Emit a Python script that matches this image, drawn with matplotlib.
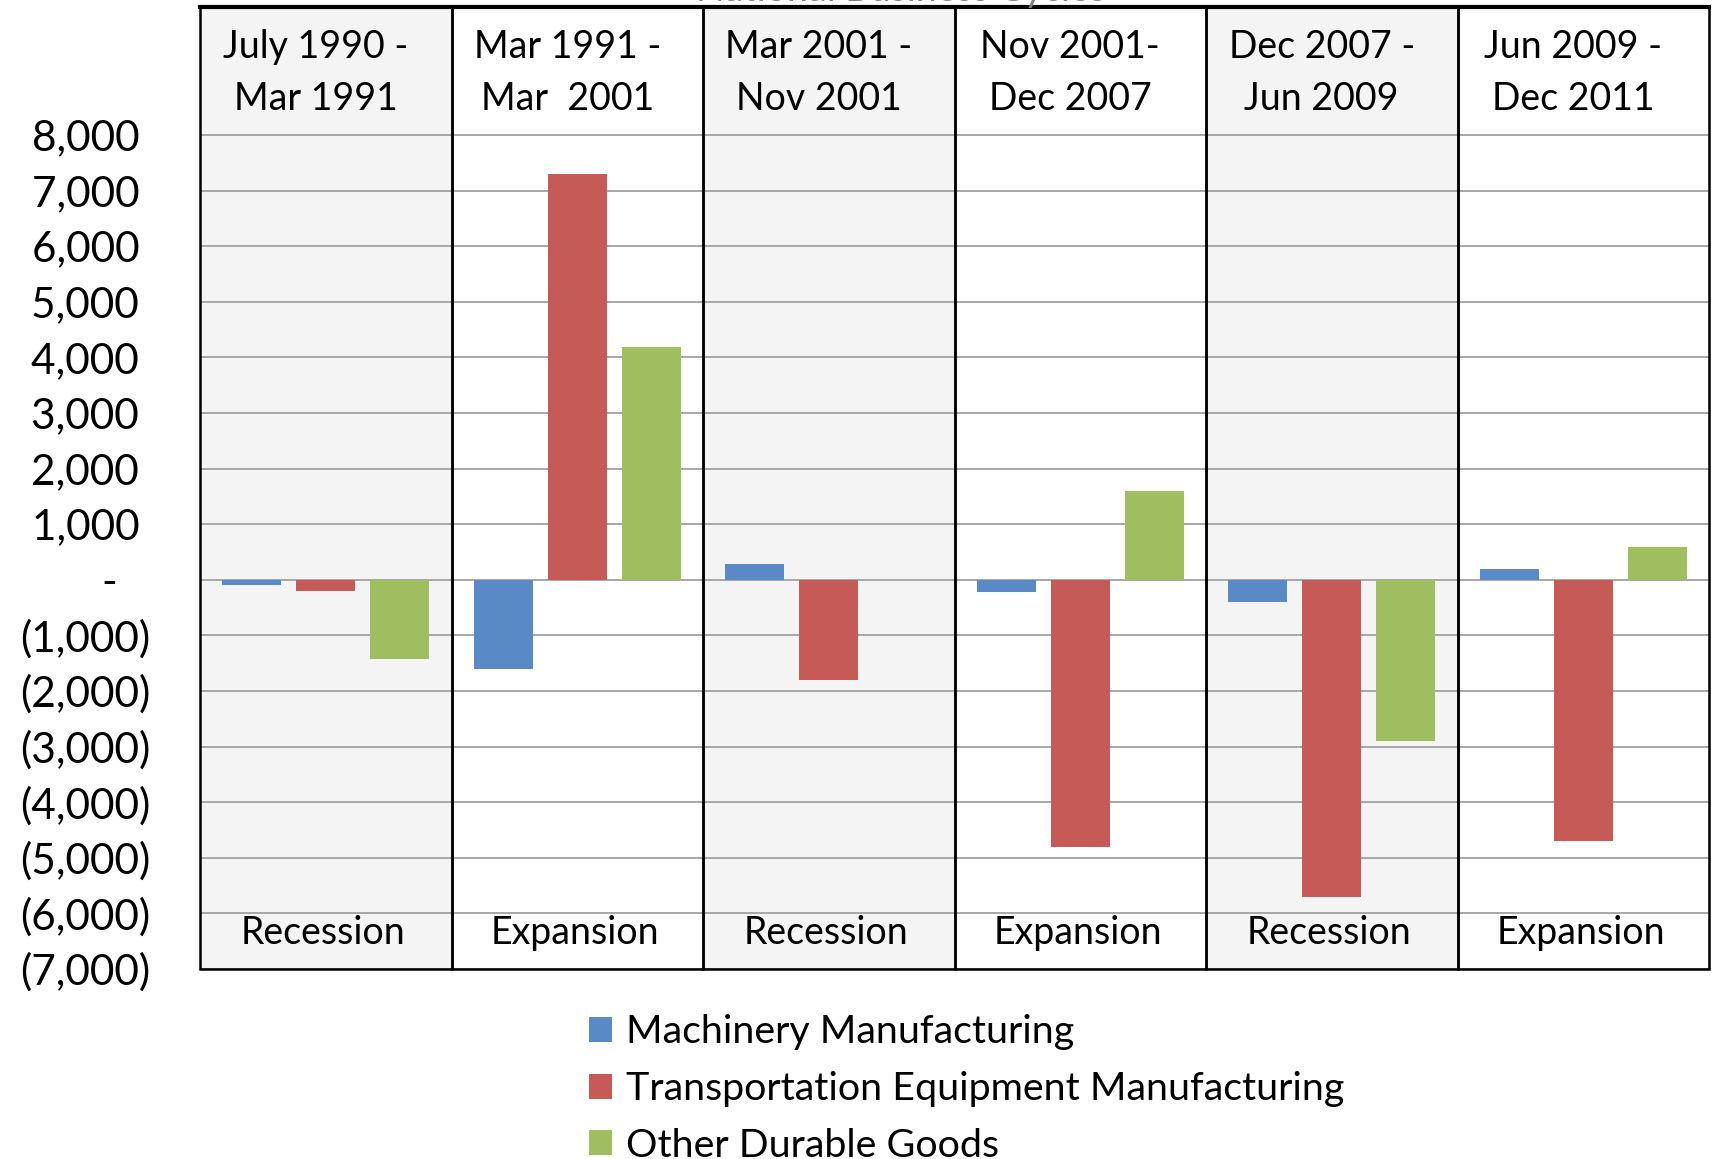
import matplotlib
matplotlib.use("Agg")
import matplotlib.pyplot as plt
from matplotlib.patches import Rectangle, Patch
import numpy as np

plt.rcParams['font.family'] = ['Lato', 'DejaVu Sans']

# data
periods = ["July 1990 -\nMar 1991", "Mar 1991 -\nMar  2001", "Mar 2001 -\nNov 2001",
           "Nov 2001-\nDec 2007", "Dec 2007 -\nJun 2009", "Jun 2009 -\nDec 2011"]
phases = ["Recession", "Expansion", "Recession", "Expansion", "Recession", "Expansion"]
series = ["Machinery Manufacturing", "Transportation Equipment Manufacturing", "Other Durable Goods"]
machinery = [-100, -1600, 290, -220, -400, 200]
transport = [-210, 7290, -1800, -4800, -5700, -4700]
other_durable = [-1420, 4180, 0, 1590, -2900, 590]
colors = ["#5a8ac6", "#c55a57", "#9fbe5f"]
yticks = list(range(-7000, 9000, 1000))

fig = plt.figure(figsize=(17.12, 11.59), dpi=100)
ax = fig.add_axes([200/1712, 1 - 969/1159, 1509/1712, 962/1159])
ymin, ymax = -7000, 10300
ax.set_xlim(-0.5, len(periods) - 0.5)
ax.set_ylim(ymin, ymax)

# panel backgrounds
for i, ph in enumerate(phases):
    fc = "#f4f4f4" if ph == "Recession" else "white"
    ax.add_patch(Rectangle((i - 0.5, ymin), 1, ymax - ymin, facecolor=fc, edgecolor="none", zorder=0))

for v in yticks:
    ax.axhline(v, color="#a0a0a0", lw=1.3, zorder=1)

x = np.arange(len(periods))
w = 0.234
step = 0.294
for k, (vals, c) in enumerate(zip([machinery, transport, other_durable], colors)):
    ax.bar(x + (k - 1) * step, vals, width=w, color=c, zorder=2, label=series[k])

# panel borders
for i in range(len(periods)):
    ax.add_patch(Rectangle((i - 0.5, ymin), 1, ymax - ymin, fill=False, edgecolor="black",
                           lw=1.8, zorder=3, clip_on=False))
ax.plot([-0.5, len(periods) - 0.5], [ymax, ymax], color="black", lw=3, zorder=4, clip_on=False)

for i, (p, ph) in enumerate(zip(periods, phases)):
    ax.text(i - 0.04, 9120, p, ha="center", va="center", fontsize=27, linespacing=1.55, zorder=5)
    ax.text(i - 0.01, -6350, ph, ha="center", va="center", fontsize=27, zorder=5)


def fmt(v):
    if v == 0:
        return "-   "
    if v < 0:
        return "({:,})".format(-v)
    return "{:,} ".format(v)


ax.set_yticks(yticks)
ax.set_yticklabels([fmt(v) for v in yticks], fontsize=30.5)
ax.set_xticks([])
ax.tick_params(axis="y", length=0, pad=36)
for s in ax.spines.values():
    s.set_visible(False)

fig.text(0.526, 1 - 1/1159, "National Business Cycles", ha="center", va="baseline",
         fontsize=27, color="#7f7f7f")

handles = [Patch(facecolor=c) for c in colors]
fig.legend(handles, series, loc="center left", bbox_to_anchor=(569/1712, 1 - 1089/1159),
           frameon=False, fontsize=28.4, handlelength=0.6, handleheight=0.6,
           handletextpad=0.35, labelspacing=0.52, borderpad=0)

fig.savefig("out.png", dpi=100)
